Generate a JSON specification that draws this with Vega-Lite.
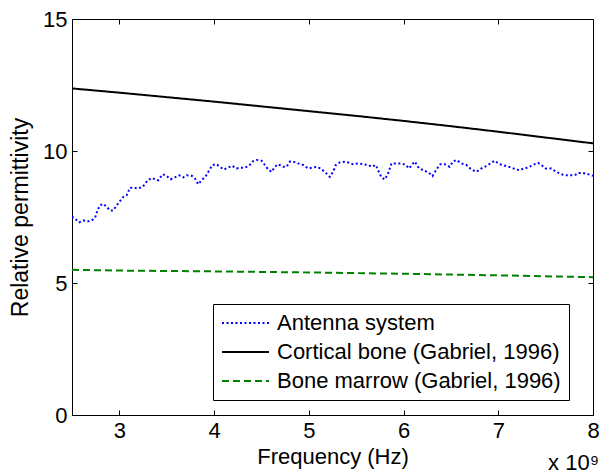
{
  "$schema": "https://vega.github.io/schema/vega-lite/v6.json",
  "width": 521,
  "height": 396,
  "autosize": {"type": "none"},
  "padding": {"left": 72, "top": 19, "right": 7, "bottom": 61},
  "background": "white",
  "title": {"text": "x 10⁹", "orient": "bottom", "anchor": "end", "font": "Liberation Sans", "fontSize": 22, "fontWeight": "normal", "color": "black", "offset": -14},
  "config": {
    "view": {"stroke": "black", "strokeWidth": 1},
    "font": "Liberation Sans",
    "axis": {"grid": false, "domainColor": "black", "tickColor": "black", "labelColor": "black", "titleColor": "black", "labelFont": "Liberation Sans", "titleFont": "Liberation Sans", "labelFontSize": 22, "titleFontSize": 22, "titleFontWeight": "normal", "tickSize": -5, "domainWidth": 1}
  },
  "datasets": {
    "d": [
      {"f": 2.5, "v": 7.52, "s": "Antenna system"},
      {"f": 2.577, "v": 7.30, "s": "Antenna system"},
      {"f": 2.619, "v": 7.37, "s": "Antenna system"},
      {"f": 2.661, "v": 7.33, "s": "Antenna system"},
      {"f": 2.708, "v": 7.37, "s": "Antenna system"},
      {"f": 2.743, "v": 7.47, "s": "Antenna system"},
      {"f": 2.771, "v": 7.77, "s": "Antenna system"},
      {"f": 2.795, "v": 7.94, "s": "Antenna system"},
      {"f": 2.830, "v": 8.00, "s": "Antenna system"},
      {"f": 2.866, "v": 7.88, "s": "Antenna system"},
      {"f": 2.901, "v": 7.75, "s": "Antenna system"},
      {"f": 2.936, "v": 7.75, "s": "Antenna system"},
      {"f": 2.972, "v": 7.94, "s": "Antenna system"},
      {"f": 3.006, "v": 8.10, "s": "Antenna system"},
      {"f": 3.041, "v": 8.26, "s": "Antenna system"},
      {"f": 3.077, "v": 8.32, "s": "Antenna system"},
      {"f": 3.112, "v": 8.61, "s": "Antenna system"},
      {"f": 3.165, "v": 8.60, "s": "Antenna system"},
      {"f": 3.199, "v": 8.58, "s": "Antenna system"},
      {"f": 3.246, "v": 8.64, "s": "Antenna system"},
      {"f": 3.294, "v": 8.87, "s": "Antenna system"},
      {"f": 3.341, "v": 8.98, "s": "Antenna system"},
      {"f": 3.386, "v": 8.92, "s": "Antenna system"},
      {"f": 3.410, "v": 8.89, "s": "Antenna system"},
      {"f": 3.457, "v": 9.12, "s": "Antenna system"},
      {"f": 3.499, "v": 9.05, "s": "Antenna system"},
      {"f": 3.541, "v": 8.93, "s": "Antenna system"},
      {"f": 3.586, "v": 9.00, "s": "Antenna system"},
      {"f": 3.632, "v": 9.08, "s": "Antenna system"},
      {"f": 3.674, "v": 9.00, "s": "Antenna system"},
      {"f": 3.710, "v": 9.08, "s": "Antenna system"},
      {"f": 3.763, "v": 9.06, "s": "Antenna system"},
      {"f": 3.797, "v": 8.96, "s": "Antenna system"},
      {"f": 3.832, "v": 8.74, "s": "Antenna system"},
      {"f": 3.868, "v": 8.89, "s": "Antenna system"},
      {"f": 3.914, "v": 9.06, "s": "Antenna system"},
      {"f": 3.948, "v": 9.27, "s": "Antenna system"},
      {"f": 3.984, "v": 9.47, "s": "Antenna system"},
      {"f": 4.026, "v": 9.50, "s": "Antenna system"},
      {"f": 4.061, "v": 9.40, "s": "Antenna system"},
      {"f": 4.103, "v": 9.30, "s": "Antenna system"},
      {"f": 4.149, "v": 9.37, "s": "Antenna system"},
      {"f": 4.191, "v": 9.44, "s": "Antenna system"},
      {"f": 4.237, "v": 9.34, "s": "Antenna system"},
      {"f": 4.280, "v": 9.37, "s": "Antenna system"},
      {"f": 4.325, "v": 9.37, "s": "Antenna system"},
      {"f": 4.370, "v": 9.44, "s": "Antenna system"},
      {"f": 4.406, "v": 9.60, "s": "Antenna system"},
      {"f": 4.448, "v": 9.66, "s": "Antenna system"},
      {"f": 4.501, "v": 9.63, "s": "Antenna system"},
      {"f": 4.536, "v": 9.47, "s": "Antenna system"},
      {"f": 4.571, "v": 9.30, "s": "Antenna system"},
      {"f": 4.607, "v": 9.21, "s": "Antenna system"},
      {"f": 4.641, "v": 9.40, "s": "Antenna system"},
      {"f": 4.676, "v": 9.50, "s": "Antenna system"},
      {"f": 4.729, "v": 9.40, "s": "Antenna system"},
      {"f": 4.765, "v": 9.40, "s": "Antenna system"},
      {"f": 4.800, "v": 9.60, "s": "Antenna system"},
      {"f": 4.834, "v": 9.60, "s": "Antenna system"},
      {"f": 4.887, "v": 9.53, "s": "Antenna system"},
      {"f": 4.940, "v": 9.47, "s": "Antenna system"},
      {"f": 4.993, "v": 9.34, "s": "Antenna system"},
      {"f": 5.039, "v": 9.37, "s": "Antenna system"},
      {"f": 5.081, "v": 9.40, "s": "Antenna system"},
      {"f": 5.123, "v": 9.34, "s": "Antenna system"},
      {"f": 5.169, "v": 9.21, "s": "Antenna system"},
      {"f": 5.222, "v": 9.02, "s": "Antenna system"},
      {"f": 5.256, "v": 9.21, "s": "Antenna system"},
      {"f": 5.285, "v": 9.47, "s": "Antenna system"},
      {"f": 5.327, "v": 9.57, "s": "Antenna system"},
      {"f": 5.390, "v": 9.60, "s": "Antenna system"},
      {"f": 5.467, "v": 9.50, "s": "Antenna system"},
      {"f": 5.520, "v": 9.53, "s": "Antenna system"},
      {"f": 5.573, "v": 9.50, "s": "Antenna system"},
      {"f": 5.626, "v": 9.47, "s": "Antenna system"},
      {"f": 5.662, "v": 9.40, "s": "Antenna system"},
      {"f": 5.707, "v": 9.47, "s": "Antenna system"},
      {"f": 5.731, "v": 9.27, "s": "Antenna system"},
      {"f": 5.767, "v": 9.00, "s": "Antenna system"},
      {"f": 5.802, "v": 8.92, "s": "Antenna system"},
      {"f": 5.837, "v": 9.15, "s": "Antenna system"},
      {"f": 5.872, "v": 9.53, "s": "Antenna system"},
      {"f": 5.925, "v": 9.53, "s": "Antenna system"},
      {"f": 5.978, "v": 9.53, "s": "Antenna system"},
      {"f": 6.023, "v": 9.47, "s": "Antenna system"},
      {"f": 6.058, "v": 9.34, "s": "Antenna system"},
      {"f": 6.100, "v": 9.53, "s": "Antenna system"},
      {"f": 6.118, "v": 9.60, "s": "Antenna system"},
      {"f": 6.164, "v": 9.34, "s": "Antenna system"},
      {"f": 6.224, "v": 9.25, "s": "Antenna system"},
      {"f": 6.269, "v": 9.17, "s": "Antenna system"},
      {"f": 6.305, "v": 9.05, "s": "Antenna system"},
      {"f": 6.347, "v": 9.30, "s": "Antenna system"},
      {"f": 6.389, "v": 9.50, "s": "Antenna system"},
      {"f": 6.435, "v": 9.50, "s": "Antenna system"},
      {"f": 6.487, "v": 9.40, "s": "Antenna system"},
      {"f": 6.522, "v": 9.60, "s": "Antenna system"},
      {"f": 6.558, "v": 9.66, "s": "Antenna system"},
      {"f": 6.611, "v": 9.53, "s": "Antenna system"},
      {"f": 6.664, "v": 9.47, "s": "Antenna system"},
      {"f": 6.716, "v": 9.30, "s": "Antenna system"},
      {"f": 6.769, "v": 9.21, "s": "Antenna system"},
      {"f": 6.822, "v": 9.34, "s": "Antenna system"},
      {"f": 6.875, "v": 9.43, "s": "Antenna system"},
      {"f": 6.927, "v": 9.55, "s": "Antenna system"},
      {"f": 6.962, "v": 9.63, "s": "Antenna system"},
      {"f": 7.015, "v": 9.50, "s": "Antenna system"},
      {"f": 7.085, "v": 9.43, "s": "Antenna system"},
      {"f": 7.138, "v": 9.37, "s": "Antenna system"},
      {"f": 7.191, "v": 9.30, "s": "Antenna system"},
      {"f": 7.226, "v": 9.27, "s": "Antenna system"},
      {"f": 7.268, "v": 9.34, "s": "Antenna system"},
      {"f": 7.313, "v": 9.37, "s": "Antenna system"},
      {"f": 7.366, "v": 9.47, "s": "Antenna system"},
      {"f": 7.419, "v": 9.55, "s": "Antenna system"},
      {"f": 7.455, "v": 9.47, "s": "Antenna system"},
      {"f": 7.500, "v": 9.34, "s": "Antenna system"},
      {"f": 7.560, "v": 9.34, "s": "Antenna system"},
      {"f": 7.611, "v": 9.21, "s": "Antenna system"},
      {"f": 7.666, "v": 9.12, "s": "Antenna system"},
      {"f": 7.718, "v": 9.08, "s": "Antenna system"},
      {"f": 7.771, "v": 9.08, "s": "Antenna system"},
      {"f": 7.806, "v": 9.08, "s": "Antenna system"},
      {"f": 7.851, "v": 9.17, "s": "Antenna system"},
      {"f": 7.894, "v": 9.17, "s": "Antenna system"},
      {"f": 7.940, "v": 9.13, "s": "Antenna system"},
      {"f": 8.0, "v": 9.06, "s": "Antenna system"},
      {"f": 2.5, "v": 12.37, "s": "Cortical bone (Gabriel, 1996)"},
      {"f": 3.0, "v": 12.21, "s": "Cortical bone (Gabriel, 1996)"},
      {"f": 3.5, "v": 12.04, "s": "Cortical bone (Gabriel, 1996)"},
      {"f": 4.0, "v": 11.87, "s": "Cortical bone (Gabriel, 1996)"},
      {"f": 4.5, "v": 11.69, "s": "Cortical bone (Gabriel, 1996)"},
      {"f": 5.0, "v": 11.51, "s": "Cortical bone (Gabriel, 1996)"},
      {"f": 5.5, "v": 11.33, "s": "Cortical bone (Gabriel, 1996)"},
      {"f": 6.0, "v": 11.14, "s": "Cortical bone (Gabriel, 1996)"},
      {"f": 6.5, "v": 10.94, "s": "Cortical bone (Gabriel, 1996)"},
      {"f": 7.0, "v": 10.73, "s": "Cortical bone (Gabriel, 1996)"},
      {"f": 7.5, "v": 10.51, "s": "Cortical bone (Gabriel, 1996)"},
      {"f": 8.0, "v": 10.29, "s": "Cortical bone (Gabriel, 1996)"},
      {"f": 2.5, "v": 5.50, "s": "Bone marrow (Gabriel, 1996)"},
      {"f": 3.0, "v": 5.47, "s": "Bone marrow (Gabriel, 1996)"},
      {"f": 4.0, "v": 5.44, "s": "Bone marrow (Gabriel, 1996)"},
      {"f": 5.0, "v": 5.40, "s": "Bone marrow (Gabriel, 1996)"},
      {"f": 6.0, "v": 5.35, "s": "Bone marrow (Gabriel, 1996)"},
      {"f": 7.0, "v": 5.29, "s": "Bone marrow (Gabriel, 1996)"},
      {"f": 8.0, "v": 5.22, "s": "Bone marrow (Gabriel, 1996)"}
    ]
  },
  "data": {"name": "d"},
  "layer": [
    {
      "mark": {"type": "line", "strokeWidth": 2, "clip": true},
      "encoding": {
        "x": {"field": "f", "type": "quantitative", "scale": {"domain": [2.5, 8], "nice": false, "zero": false},
              "axis": {"orient": "bottom", "values": [3, 4, 5, 6, 7, 8], "format": "d", "title": "Frequency (Hz)", "labelPadding": 10, "titlePadding": 5, "labelFlush": false}},
        "y": {"field": "v", "type": "quantitative", "scale": {"domain": [0, 15], "nice": false},
              "axis": {"orient": "left", "values": [0, 5, 10, 15], "title": "Relative permittivity", "titleFontSize": 23, "labelPadding": 10, "titlePadding": 10, "labelFlush": false}},
        "color": {"field": "s", "type": "nominal",
                  "scale": {"domain": ["Antenna system", "Cortical bone (Gabriel, 1996)", "Bone marrow (Gabriel, 1996)"], "range": ["#0000FF", "#000000", "#008000"]},
                  "legend": {"title": null, "orient": "none", "legendX": 141, "legendY": 285, "strokeColor": "black", "fillColor": "white", "padding": 8, "cornerRadius": 0, "symbolType": "M-1,0H3.7", "symbolSize": 400, "symbolStrokeWidth": 2, "labelFontSize": 22, "labelFont": "Liberation Sans", "labelColor": "black", "labelOffset": 34, "rowPadding": 7, "labelLimit": 400}},
        "strokeDash": {"field": "s", "type": "nominal",
                  "scale": {"domain": ["Antenna system", "Cortical bone (Gabriel, 1996)", "Bone marrow (Gabriel, 1996)"], "range": [[2, 2.5], [1, 0], [7, 4]]},
                  "legend": null}
      }
    },
    {
      "mark": {"type": "line", "opacity": 0},
      "encoding": {
        "x": {"field": "f", "type": "quantitative", "axis": {"orient": "top", "values": [3, 4, 5, 6, 7, 8], "labels": false, "title": null, "domain": false}},
        "y": {"field": "v", "type": "quantitative", "axis": {"orient": "right", "values": [0, 5, 10, 15], "labels": false, "title": null, "domain": false}},
        "detail": {"field": "s"}
      }
    }
  ],
  "resolve": {"axis": {"x": "independent", "y": "independent"}}
}
